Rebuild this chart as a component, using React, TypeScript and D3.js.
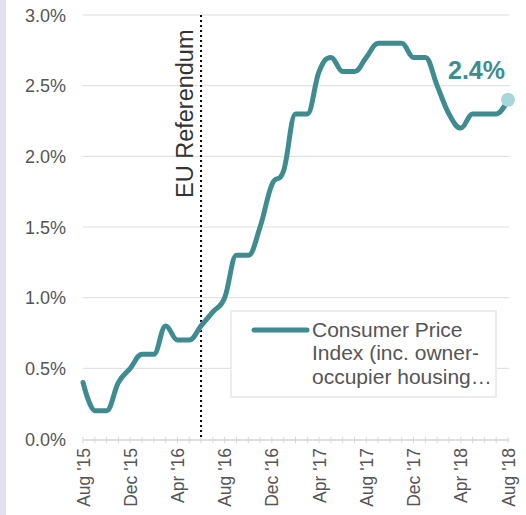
import React from "react";
import * as d3 from "d3";

const months: string[] = [
  "2015-08","2015-09","2015-10","2015-11","2015-12",
  "2016-01","2016-02","2016-03","2016-04","2016-05","2016-06","2016-07","2016-08","2016-09","2016-10","2016-11","2016-12",
  "2017-01","2017-02","2017-03","2017-04","2017-05","2017-06","2017-07","2017-08","2017-09","2017-10","2017-11","2017-12",
  "2018-01","2018-02","2018-03","2018-04","2018-05","2018-06","2018-07","2018-08",
];
const cpih: number[] = [
  0.4, 0.2, 0.2, 0.4, 0.5,
  0.6, 0.6, 0.8, 0.7, 0.7, 0.8, 0.9, 1.0, 1.3, 1.3, 1.5, 1.8,
  1.9, 2.3, 2.3, 2.6, 2.7, 2.6, 2.6, 2.7, 2.8, 2.8, 2.8, 2.7,
  2.7, 2.5, 2.3, 2.2, 2.3, 2.3, 2.3, 2.4,
];
const yTicks: number[] = [0, 0.5, 1.0, 1.5, 2.0, 2.5, 3.0];
const xTickLabels: string[] = ["Aug '15","Dec '15","Apr '16","Aug '16","Dec '16","Apr '17","Aug '17","Dec '17","Apr '18","Aug '18"];
const seriesName = ["Consumer Price", "Index (inc. owner-", "occupier housing…"];
const referendumIndex = 10; // Jun 2016
const lastLabel = "2.4%";

// Highcharts-style spline through pixel points
function splinePath(pts: [number, number][]): string {
  const s = 1.5, den = s + 1;
  const n = pts.length;
  const lc: [number, number][] = [];
  const rc: [number, number][] = [];
  for (let i = 0; i < n; i++) {
    const [x, y] = pts[i];
    if (i === 0 || i === n - 1) { lc.push([x, y]); rc.push([x, y]); continue; }
    const [lx, ly] = pts[i - 1];
    const [nx, ny] = pts[i + 1];
    const lcx = (s * x + lx) / den;
    let lcy = (s * y + ly) / den;
    const rcx = (s * x + nx) / den;
    let rcy = (s * y + ny) / den;
    if (rcx !== lcx) {
      const corr = ((rcy - lcy) * (rcx - x)) / (rcx - lcx) + y - rcy;
      lcy += corr; rcy += corr;
    }
    if (lcy > ly && lcy > y) { lcy = Math.max(ly, y); rcy = 2 * y - lcy; }
    else if (lcy < ly && lcy < y) { lcy = Math.min(ly, y); rcy = 2 * y - lcy; }
    if (rcy > ny && rcy > y) { rcy = Math.max(ny, y); lcy = 2 * y - rcy; }
    else if (rcy < ny && rcy < y) { rcy = Math.min(ny, y); lcy = 2 * y - rcy; }
    lc.push([lcx, lcy]); rc.push([rcx, rcy]);
  }
  const p = d3.path();
  p.moveTo(pts[0][0], pts[0][1]);
  for (let i = 1; i < n; i++) {
    p.bezierCurveTo(rc[i - 1][0], rc[i - 1][1], lc[i][0], lc[i][1], pts[i][0], pts[i][1]);
  }
  return p.toString();
}

export default function App() {
  const W = 526, H = 515;
  const x = d3.scaleLinear().domain([0, months.length - 1]).range([83, 508]);
  const y = d3.scaleLinear().domain([0, 3]).range([439, 15]);
  const pts: [number, number][] = cpih.map((v, i) => [x(i), y(v)]);
  const grey = "#555555";
  const teal = "#3e8c8f";
  const last = cpih.length - 1;
  return (
    <svg width={W} height={H} style={{ position: "absolute", left: 0, top: 0, fontFamily: "'Liberation Sans', Arial, sans-serif" }}>
      <rect x={0} y={0} width={W} height={H} fill="#ffffff" />
      <rect x={0} y={0} width={6} height={H} fill="#e1dff0" />
      {yTicks.map((t) => (
        <g key={t}>
          {t > 0 && <line x1={83} x2={509} y1={y(t)} y2={y(t)} stroke="#dddddd" strokeWidth={1} />}
          <text x={66} y={y(t) + 6.5} textAnchor="end" fontSize={18} fill={grey}>{t.toFixed(1)}%</text>
        </g>
      ))}
      <line x1={83} x2={509} y1={440} y2={440} stroke="#d6d6d6" strokeWidth={1.5} />
      {months.map((m, i) => (
        <line key={m} x1={x(i)} x2={x(i)} y1={437} y2={443} stroke="#d6d6d6" strokeWidth={1} />
      ))}
      {xTickLabels.map((lab, k) => (
        <text key={lab} transform={`translate(${x(k * 4) + 6.5},448) rotate(-90)`} textAnchor="end" fontSize={17.5} fill={grey}>{lab}</text>
      ))}
      <line x1={x(referendumIndex)} x2={x(referendumIndex)} y1={15} y2={440} stroke="#000" strokeWidth={2} strokeDasharray="2,3" />
      <text transform={`translate(${x(referendumIndex) - 8},198) rotate(-90)`} textAnchor="start" fontSize={23.5} fill="#333">EU Referendum</text>
      <path d={splinePath(pts)} fill="none" stroke={teal} strokeWidth={5} strokeLinecap="round" strokeLinejoin="round" />
      <circle cx={x(last)} cy={y(cpih[last])} r={7} fill="#a8d6d9" />
      <text x={505} y={79} textAnchor="end" fontSize={25} fontWeight="bold" fill={teal}>{lastLabel}</text>
      <rect x={231} y={311} width={265} height={86} fill="#ffffff" stroke="#ececec" strokeWidth={2} />
      <line x1={254} x2={307} y1={330} y2={330} stroke={teal} strokeWidth={5} strokeLinecap="round" />
      {seriesName.map((s, i) => (
        <text key={s} x={312} y={337 + i * 23.3} fontSize={21} fill={grey}>{s}</text>
      ))}
    </svg>
  );
}
